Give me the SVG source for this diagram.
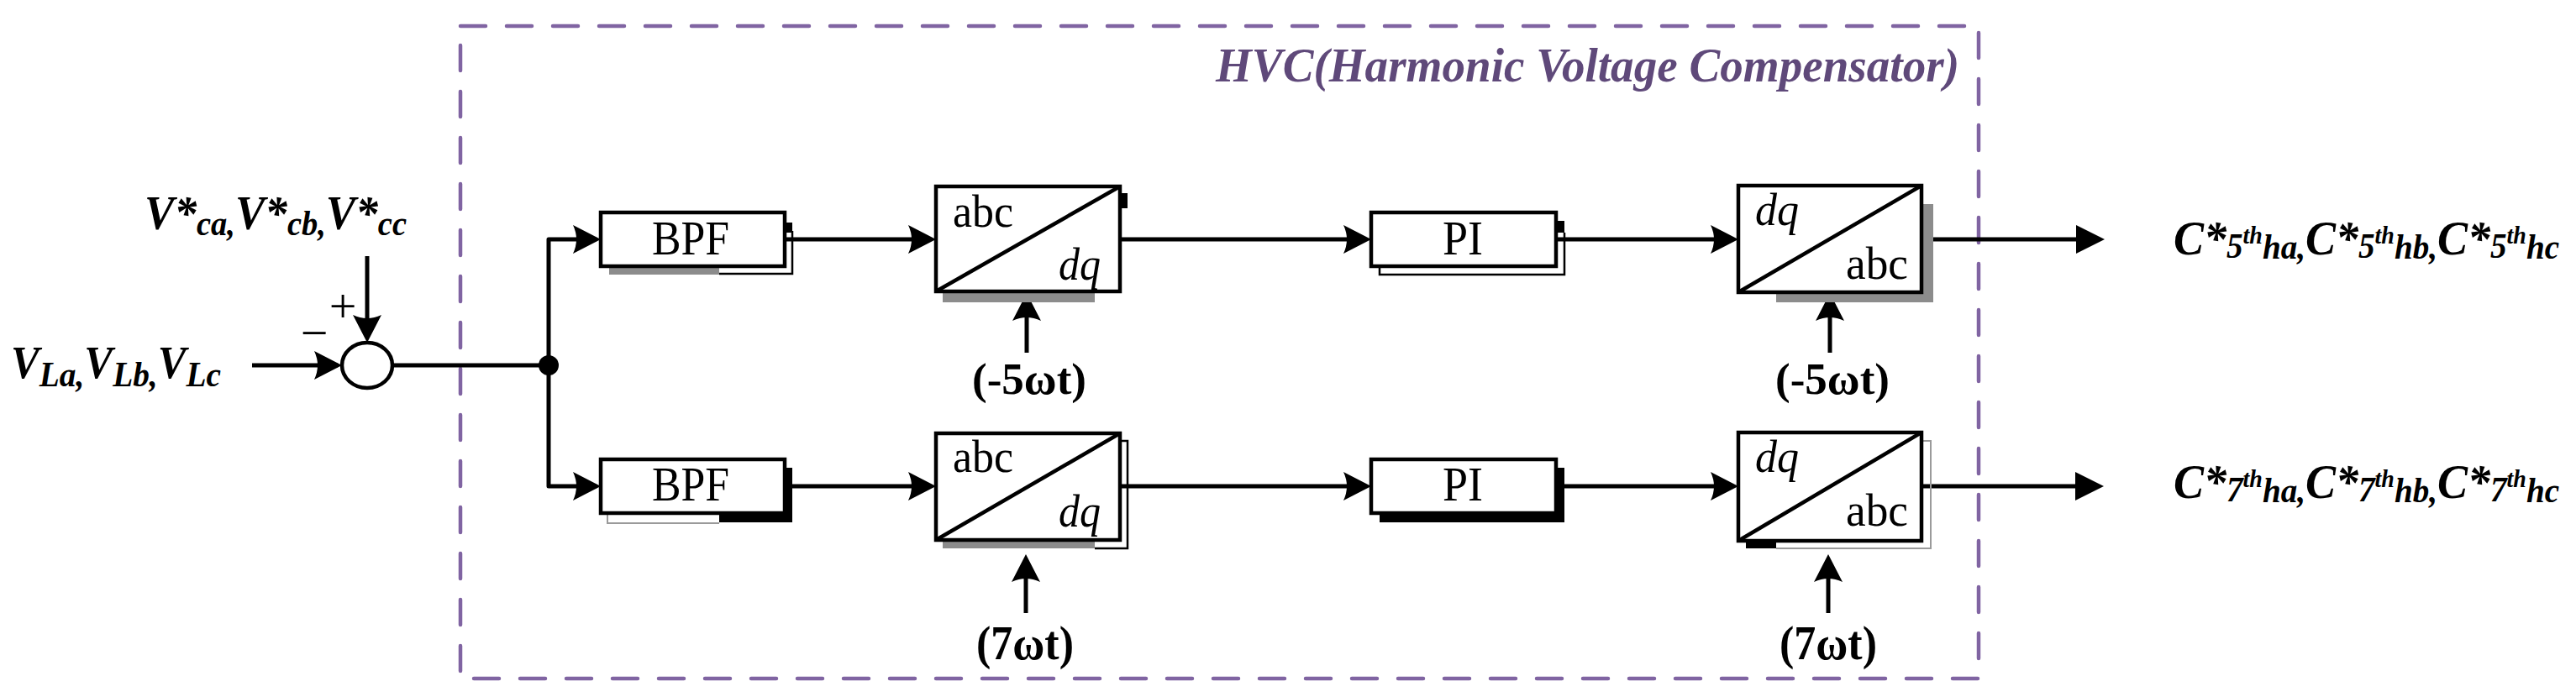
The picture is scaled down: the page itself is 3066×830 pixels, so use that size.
<svg xmlns="http://www.w3.org/2000/svg" width="3066" height="830" viewBox="0 0 3066 830">
<style>
.ln{fill:none;stroke:#000;stroke-width:5;stroke-linejoin:round;stroke-linecap:butt}
.box{fill:#fff;stroke:#000;stroke-width:4.5}
.diag{stroke:#000;stroke-width:4.5}
.t{font-family:"Liberation Serif","Times New Roman",serif;fill:#000}
.bi{font-weight:bold;font-style:italic}
.b{font-weight:bold}
.i{font-style:italic}
.gray{fill:#8c8c8c}
.thin{fill:none;stroke:#000;stroke-width:2.5}
.thing{fill:none;stroke:#9a9a9a;stroke-width:2}
.blk{font-size:58px}
.cv{font-size:54px}
</style>
<defs>
<path id="ah" d="M0,0 L-33,-17 Q-25,0 -33,17 Z"/>
<path id="at" d="M0,0 L-34,-17 L-34,17 Z"/>
</defs>
<rect width="3066" height="830" fill="#fff"/>

<g id="hvc">
<rect x="548" y="31" width="1807" height="777" fill="none" stroke="#8064A2" stroke-width="4.5" stroke-dasharray="30 25" stroke-linecap="round"/>
<text class="t bi" x="2332" y="97" font-size="58" text-anchor="end" textLength="885" lengthAdjust="spacingAndGlyphs" style="fill:#5F497A">HVC(Harmonic Voltage Compensator)</text>
</g>

<g id="input-ref">
<text class="t bi" x="172" y="273" font-size="58" textLength="312" lengthAdjust="spacingAndGlyphs">V*<tspan font-size="42" dy="7">ca,</tspan><tspan dy="-7">V*</tspan><tspan font-size="42" dy="7">cb,</tspan><tspan dy="-7">V*</tspan><tspan font-size="42" dy="7">cc</tspan></text>
</g>
<g id="input-load">
<text class="t bi" x="13" y="450" font-size="54" textLength="250" lengthAdjust="spacingAndGlyphs">V<tspan font-size="42" dy="10">La,</tspan><tspan dy="-10">V</tspan><tspan font-size="42" dy="10">Lb,</tspan><tspan dy="-10">V</tspan><tspan font-size="42" dy="10">Lc</tspan></text>
</g>

<g id="sum">
<ellipse cx="437" cy="435" rx="30" ry="27" fill="#fff" stroke="#000" stroke-width="4.5"/>
<text class="t" x="408" y="384" font-size="58" text-anchor="middle">+</text>
<text class="t" x="374" y="416" font-size="58" text-anchor="middle">−</text>
</g>

<g id="junction">
<circle cx="653" cy="435" r="12" fill="#000"/>
</g>

<g id="connectors">
<path class="ln" d="M300,435 H402"/>
<use href="#ah" transform="translate(407,435)"/>
<path class="ln" d="M437,305 V402"/>
<use href="#ah" transform="translate(437,408) rotate(90)"/>
<path class="ln" d="M467,435 H653"/>
<path class="ln" d="M710,285 H653 V579 H710"/>
<use href="#ah" transform="translate(715,285)"/>
<use href="#ah" transform="translate(715,579)"/>
<path class="ln" d="M934,285 H1108"/>
<use href="#ah" transform="translate(1114,285)"/>
<path class="ln" d="M1333,285 H1626"/>
<use href="#ah" transform="translate(1632,285)"/>
<path class="ln" d="M1852,285 H2063"/>
<use href="#ah" transform="translate(2069,285)"/>
<path class="ln" d="M2287,285 H2480"/>
<use href="#at" transform="translate(2505,285)"/>
<path class="ln" d="M934,579 H1108"/>
<use href="#ah" transform="translate(1114,579)"/>
<path class="ln" d="M1333,579 H1626"/>
<use href="#ah" transform="translate(1632,579)"/>
<path class="ln" d="M1852,579 H2063"/>
<use href="#ah" transform="translate(2069,579)"/>
<path class="ln" d="M2287,579 H2480"/>
<use href="#at" transform="translate(2504,579)"/>
<path class="ln" d="M1222,420 V355"/>
<use href="#ah" transform="translate(1222,349) rotate(-90)"/>
<path class="ln" d="M2178,420 V355"/>
<use href="#ah" transform="translate(2178,349) rotate(-90)"/>
<path class="ln" d="M1221,730 V666"/>
<use href="#ah" transform="translate(1221,660) rotate(-90)"/>
<path class="ln" d="M2176,730 V666"/>
<use href="#ah" transform="translate(2176,660) rotate(-90)"/>
</g>

<g id="bpf1">
<rect class="gray" x="725" y="318" width="131" height="9"/>
<path class="thin" d="M856,326 H943 V275"/>
<rect x="934" y="265" width="9" height="12" fill="#000"/>
<rect class="box" x="715" y="253" width="219" height="64"/>
<text class="t blk" x="822" y="303" text-anchor="middle" textLength="92" lengthAdjust="spacingAndGlyphs">BPF</text>
</g>

<g id="abcdq1">
<rect class="gray" x="1122" y="349" width="181" height="11"/>
<rect x="1333" y="230" width="9" height="18" fill="#000"/>
<rect class="box" x="1114" y="222" width="219" height="125"/>
<line class="diag" x1="1114" y1="347" x2="1333" y2="222"/>
<text class="t cv" x="1134" y="270" textLength="72" lengthAdjust="spacingAndGlyphs">abc</text>
<text class="t cv i" x="1260" y="333" textLength="50" lengthAdjust="spacingAndGlyphs">dq</text>
<text class="t b" x="1225" y="469" font-size="52" text-anchor="middle" textLength="136" lengthAdjust="spacingAndGlyphs">(-5ωt)</text>
</g>

<g id="pi1">
<path class="thin" d="M1642,317 V327 H1862 V277"/>
<rect x="1852" y="263" width="10" height="14" fill="#000"/>
<rect class="box" x="1632" y="253" width="220" height="64"/>
<text class="t blk" x="1741" y="303" text-anchor="middle" textLength="48" lengthAdjust="spacingAndGlyphs">PI</text>
</g>

<g id="dqabc1">
<rect class="gray" x="2287" y="243" width="14" height="117"/>
<rect class="gray" x="2114" y="348" width="187" height="12"/>
<rect class="box" x="2069" y="221" width="218" height="127"/>
<line class="diag" x1="2069" y1="348" x2="2287" y2="221"/>
<text class="t cv i" x="2089" y="268" textLength="52" lengthAdjust="spacingAndGlyphs">dq</text>
<text class="t cv" x="2271" y="332" text-anchor="end" textLength="74" lengthAdjust="spacingAndGlyphs">abc</text>
<text class="t b" x="2181" y="469" font-size="52" text-anchor="middle" textLength="136" lengthAdjust="spacingAndGlyphs">(-5ωt)</text>
</g>

<g id="bpf2">
<path class="thing" d="M723,611 V623 H856"/>
<rect x="934" y="557" width="9" height="65" fill="#000"/>
<rect x="856" y="611" width="87" height="11" fill="#000"/>
<rect class="box" x="715" y="547" width="219" height="64"/>
<text class="t blk" x="822" y="596" text-anchor="middle" textLength="92" lengthAdjust="spacingAndGlyphs">BPF</text>
</g>

<g id="abcdq2">
<rect class="gray" x="1122" y="643" width="181" height="10"/>
<path class="thin" d="M1333,525 H1342 V653 H1303"/>
<rect class="box" x="1114" y="516" width="219" height="127"/>
<line class="diag" x1="1114" y1="643" x2="1333" y2="516"/>
<text class="t cv" x="1134" y="562" textLength="72" lengthAdjust="spacingAndGlyphs">abc</text>
<text class="t cv i" x="1260" y="627" textLength="50" lengthAdjust="spacingAndGlyphs">dq</text>
<text class="t b" x="1220" y="785" font-size="56" text-anchor="middle" textLength="116" lengthAdjust="spacingAndGlyphs">(7ωt)</text>
</g>

<g id="pi2">
<rect x="1642" y="557" width="220" height="65" fill="#000"/>
<rect class="box" x="1632" y="547" width="220" height="64"/>
<text class="t blk" x="1741" y="596" text-anchor="middle" textLength="48" lengthAdjust="spacingAndGlyphs">PI</text>
</g>

<g id="dqabc2">
<path class="thing" d="M2287,525 H2298 V653 H2114"/>
<rect x="2078" y="643" width="36" height="10" fill="#000"/>
<rect class="box" x="2069" y="515" width="218" height="129"/>
<line class="diag" x1="2069" y1="644" x2="2287" y2="515"/>
<text class="t cv i" x="2089" y="562" textLength="52" lengthAdjust="spacingAndGlyphs">dq</text>
<text class="t cv" x="2271" y="626" text-anchor="end" textLength="74" lengthAdjust="spacingAndGlyphs">abc</text>
<text class="t b" x="2176" y="785" font-size="56" text-anchor="middle" textLength="116" lengthAdjust="spacingAndGlyphs">(7ωt)</text>
</g>

<g id="out5">
<text class="t bi" x="2587" y="303" font-size="58" textLength="459" lengthAdjust="spacingAndGlyphs">C*<tspan font-size="42" dy="4">5</tspan><tspan font-size="30" dy="-17">th</tspan><tspan font-size="42" dy="18">ha,</tspan><tspan dy="-5">C*</tspan><tspan font-size="42" dy="4">5</tspan><tspan font-size="30" dy="-17">th</tspan><tspan font-size="42" dy="18">hb,</tspan><tspan dy="-5">C*</tspan><tspan font-size="42" dy="4">5</tspan><tspan font-size="30" dy="-17">th</tspan><tspan font-size="42" dy="18">hc</tspan></text>
</g>
<g id="out7">
<text class="t bi" x="2587" y="593" font-size="58" textLength="459" lengthAdjust="spacingAndGlyphs">C*<tspan font-size="42" dy="4">7</tspan><tspan font-size="30" dy="-17">th</tspan><tspan font-size="42" dy="18">ha,</tspan><tspan dy="-5">C*</tspan><tspan font-size="42" dy="4">7</tspan><tspan font-size="30" dy="-17">th</tspan><tspan font-size="42" dy="18">hb,</tspan><tspan dy="-5">C*</tspan><tspan font-size="42" dy="4">7</tspan><tspan font-size="30" dy="-17">th</tspan><tspan font-size="42" dy="18">hc</tspan></text>
</g>
</svg>
